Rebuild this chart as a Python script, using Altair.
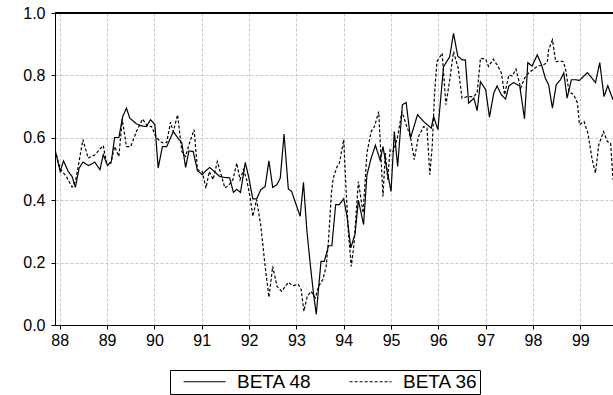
import altair as alt
import pandas as pd

# BETA 48 (solid)
b48_t = [1987.90, 1988.01, 1988.08, 1988.18, 1988.26, 1988.33, 1988.41, 1988.49, 1988.61, 1988.74,
         1988.85, 1988.92, 1989.01, 1989.09, 1989.16, 1989.25, 1989.33, 1989.41, 1989.48, 1989.62,
         1989.73, 1989.83, 1989.92, 1990.01, 1990.08, 1990.17, 1990.26, 1990.40, 1990.50, 1990.58,
         1990.66, 1990.73, 1990.82, 1990.91, 1991.01, 1991.09, 1991.17, 1991.28, 1991.38, 1991.48,
         1991.59, 1991.67, 1991.74, 1991.82, 1991.92, 1991.99, 1992.08, 1992.16, 1992.25, 1992.34,
         1992.42, 1992.50, 1992.59, 1992.66, 1992.74, 1992.83, 1992.90, 1993.08, 1993.15, 1993.22,
         1993.29, 1993.36, 1993.42, 1993.52, 1993.59, 1993.68, 1993.75, 1993.83, 1993.91, 1994.00,
         1994.07, 1994.15, 1994.24, 1994.31, 1994.42, 1994.49, 1994.58, 1994.67, 1994.77, 1994.83,
         1994.91, 1995.00, 1995.07, 1995.14, 1995.24, 1995.32, 1995.41, 1995.56, 1995.69, 1995.85,
         1995.90, 1995.99, 1996.11, 1996.24, 1996.32, 1996.41, 1996.50, 1996.57, 1996.64, 1996.75,
         1996.82, 1996.89, 1997.00, 1997.08, 1997.17, 1997.24, 1997.33, 1997.42, 1997.49, 1997.59,
         1997.72, 1997.82, 1997.89, 1997.98, 1998.09, 1998.18, 1998.26, 1998.33, 1998.41, 1998.49,
         1998.58, 1998.65, 1998.72, 1998.81, 1998.90, 1998.98, 1999.15, 1999.32, 1999.41, 1999.50,
         1999.58, 1999.69]
b48_v = [0.562, 0.492, 0.526, 0.492, 0.476, 0.441, 0.503, 0.522, 0.511, 0.522,
         0.498, 0.546, 0.511, 0.524, 0.601, 0.601, 0.668, 0.695, 0.663, 0.645,
         0.638, 0.636, 0.658, 0.642, 0.503, 0.572, 0.572, 0.620, 0.599, 0.583,
         0.505, 0.558, 0.556, 0.495, 0.482, 0.495, 0.505, 0.490, 0.476, 0.473,
         0.472, 0.425, 0.435, 0.425, 0.521, 0.476, 0.404, 0.404, 0.434, 0.444,
         0.526, 0.441, 0.450, 0.471, 0.612, 0.436, 0.428, 0.348, 0.457, 0.306,
         0.199, 0.103, 0.034, 0.204, 0.204, 0.254, 0.254, 0.386, 0.386, 0.405,
         0.348, 0.247, 0.292, 0.400, 0.322, 0.480, 0.535, 0.576, 0.528, 0.572,
         0.500, 0.428, 0.620, 0.508, 0.706, 0.713, 0.599, 0.674, 0.652, 0.631,
         0.668, 0.626, 0.828, 0.860, 0.935, 0.862, 0.850, 0.850, 0.711, 0.727,
         0.687, 0.780, 0.754, 0.666, 0.743, 0.766, 0.738, 0.724, 0.766, 0.777,
         0.766, 0.661, 0.841, 0.830, 0.866, 0.834, 0.791, 0.770, 0.695, 0.770,
         0.786, 0.808, 0.727, 0.786, 0.786, 0.784, 0.809, 0.777, 0.841, 0.732,
         0.767, 0.722]

# BETA 36 (dashed)
b36_t = [1987.90, 1988.01, 1988.14, 1988.26, 1988.33, 1988.39, 1988.49, 1988.60, 1988.74, 1988.92,
         1988.99, 1989.08, 1989.16, 1989.25, 1989.32, 1989.41, 1989.50, 1989.62, 1989.75, 1989.85,
         1989.94, 1990.03, 1990.12, 1990.20, 1990.26, 1990.34, 1990.40, 1990.49, 1990.58, 1990.66,
         1990.75, 1990.84, 1990.91, 1991.01, 1991.09, 1991.16, 1991.24, 1991.33, 1991.42, 1991.49,
         1991.58, 1991.66, 1991.74, 1991.81, 1991.88, 1991.95, 1992.02, 1992.08, 1992.16, 1992.25,
         1992.34, 1992.42, 1992.50, 1992.59, 1992.69, 1992.83, 1992.92, 1993.04, 1993.10, 1993.16,
         1993.23, 1993.31, 1993.40, 1993.47, 1993.56, 1993.63, 1993.68, 1993.74, 1993.78, 1993.86,
         1993.91, 1994.00, 1994.05, 1994.10, 1994.16, 1994.22, 1994.31, 1994.41, 1994.49, 1994.58,
         1994.65, 1994.74, 1994.83, 1994.88, 1994.93, 1994.98, 1995.05, 1995.14, 1995.23, 1995.32,
         1995.41, 1995.49, 1995.58, 1995.69, 1995.76, 1995.82, 1995.87, 1995.92, 1995.97, 1996.08,
         1996.16, 1996.24, 1996.32, 1996.42, 1996.50, 1996.61, 1996.75, 1996.82, 1996.89, 1997.00,
         1997.06, 1997.16, 1997.24, 1997.33, 1997.40, 1997.49, 1997.56, 1997.64, 1997.74, 1997.82,
         1997.91, 1998.09, 1998.22, 1998.30, 1998.33, 1998.41, 1998.48, 1998.58, 1998.64, 1998.69,
         1998.76, 1998.86, 1998.94, 1998.98, 1999.08, 1999.16, 1999.25, 1999.32, 1999.39, 1999.49,
         1999.57, 1999.64, 1999.69]
b36_v = [0.562, 0.500, 0.476, 0.442, 0.460, 0.508, 0.594, 0.535, 0.545, 0.575,
         0.519, 0.519, 0.572, 0.540, 0.660, 0.572, 0.572, 0.620, 0.660, 0.638,
         0.636, 0.604, 0.588, 0.583, 0.585, 0.650, 0.620, 0.674, 0.556, 0.540,
         0.588, 0.626, 0.498, 0.492, 0.439, 0.492, 0.466, 0.524, 0.476, 0.439,
         0.450, 0.466, 0.519, 0.466, 0.498, 0.466, 0.412, 0.348, 0.402, 0.316,
         0.188, 0.089, 0.188, 0.124, 0.108, 0.137, 0.126, 0.130, 0.114, 0.044,
         0.092, 0.108, 0.087, 0.124, 0.146, 0.188, 0.274, 0.423, 0.471, 0.508,
         0.519, 0.594, 0.434, 0.295, 0.188, 0.263, 0.460, 0.359, 0.551, 0.620,
         0.636, 0.684, 0.412, 0.551, 0.466, 0.562, 0.556, 0.604, 0.684, 0.642,
         0.604, 0.530, 0.604, 0.636, 0.631, 0.482, 0.572, 0.743, 0.844, 0.871,
         0.706, 0.786, 0.876, 0.823, 0.727, 0.732, 0.732, 0.745, 0.855, 0.852,
         0.829, 0.852, 0.834, 0.809, 0.738, 0.802, 0.798, 0.820, 0.759, 0.791,
         0.808, 0.829, 0.834, 0.841, 0.882, 0.914, 0.844, 0.846, 0.844, 0.818,
         0.748, 0.738, 0.711, 0.642, 0.652, 0.615, 0.530, 0.487, 0.578, 0.620,
         0.588, 0.583, 0.466]

series_names = ["BETA 48", "BETA 36"]
year_ticks = [1988, 1989, 1990, 1991, 1992, 1993, 1994, 1995, 1996, 1997, 1998, 1999]
y_ticks = [0.0, 0.2, 0.4, 0.6, 0.8, 1.0]

df = pd.concat([
    pd.DataFrame({"t": b48_t, "v": b48_v, "s": series_names[0], "o": range(len(b48_t))}),
    pd.DataFrame({"t": b36_t, "v": b36_v, "s": series_names[1], "o": range(len(b36_t))}),
])

FONT = "Liberation Sans"

x_enc = alt.X("t:Q", scale=alt.Scale(domain=[1987.9, 1999.69], nice=False, zero=False),
              axis=alt.Axis(values=year_ticks, title=None,
                            labelExpr="slice(toString(datum.value), 2)",
                            tickSize=4, labelPadding=3, labelFontSize=16,
                            grid=True, gridColor="#c8c8c8", gridDash=[3, 2],
                            domainColor="black", tickColor="black", labelColor="black"))
y_enc = alt.Y("v:Q", scale=alt.Scale(domain=[0, 1], nice=False),
              axis=alt.Axis(values=y_ticks, format=".1f", title=None,
                            tickSize=4, labelPadding=6, labelFontSize=16,
                            grid=True, gridColor="#c8c8c8", gridDash=[3, 2],
                            domainColor="black", tickColor="black", labelColor="black"))

lines = alt.Chart(df).mark_line(color="black", strokeWidth=1.2, clip=True).encode(
    x=x_enc,
    y=y_enc,
    strokeDash=alt.StrokeDash("s:N",
        scale=alt.Scale(domain=series_names, range=[[1, 0], [3, 2]]),
        legend=alt.Legend(title=None, orient="none", legendX=115, legendY=357,
                          direction="horizontal", symbolType="M0.3,0H6.3", symbolSize=196,
                          symbolStrokeColor="black", symbolStrokeWidth=1.2,
                          labelFontSize=19, labelFont=FONT, labelColor="black",
                          strokeColor="black", padding=2, columnPadding=26,
                          labelOffset=46)),
    order="o:Q",
)

top_border = alt.Chart(df).mark_rule(color="black", strokeWidth=1).encode(
    y=alt.datum(1.0)
)

chart = alt.layer(lines, top_border).properties(
    width=558, height=312,
    autosize=alt.AutoSizeParams(type="none"),
    padding={"left": 55, "top": 13, "right": 0, "bottom": 70},
).configure(font=FONT).configure_view(stroke="black", strokeWidth=1)

chart.save("out.html", embed_options={"renderer": "svg", "actions": False})
